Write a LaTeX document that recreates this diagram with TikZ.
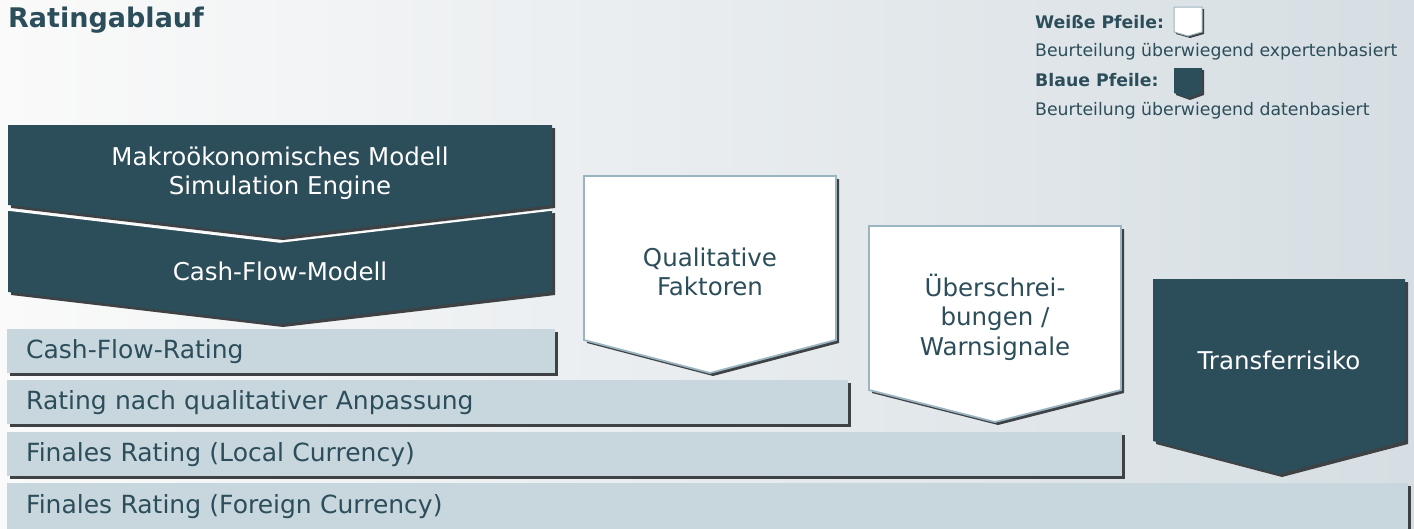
\documentclass[tikz,border=0pt]{standalone}
\usepackage{fontspec}
\setmainfont{DejaVu Sans}
\usepackage{tikz}
\usetikzlibrary{shadows}
\definecolor{petrol}{RGB}{44,77,90}
\definecolor{balkenfarbe}{RGB}{200,214,221}
\definecolor{randfarbe}{RGB}{155,180,193}
\definecolor{schattenfarbe}{RGB}{62,66,69}
\definecolor{hglinks}{RGB}{250,250,250}
\definecolor{hgrechts}{RGB}{214,222,227}

\begin{document}
\begin{tikzpicture}[x=1pt,y=-1pt,
	schlagschatten/.style={drop shadow={shadow xshift=3pt,shadow yshift=-3pt,fill=schattenfarbe,opacity=1}},
	blaupfeil/.style={fill=petrol,schlagschatten},
	weisspfeil/.style={fill=white,draw=randfarbe,line width=1.8pt,schlagschatten},
	pfeiltext/.style={align=center,inner sep=0pt,font=\fontsize{24.5}{29.5}\selectfont},
	balken/.style={fill=balkenfarbe,schlagschatten,anchor=north west,minimum height=44pt,
		inner ysep=0pt,inner xsep=19pt,text width=#1,align=left,text=petrol,
		font=\fontsize{25}{30}\selectfont},
	legende/.style={anchor=base west,inner sep=0pt,text=petrol,font=\fontsize{17.3}{21}\selectfont}]
	\useasboundingbox (0,0) rectangle (1414,528);
	\shade[left color=hglinks,right color=hgrechts] (0,0) rectangle (1414,528);

	\node[anchor=base west,inner sep=0pt,text=petrol,font=\bfseries\fontsize{27}{32}\selectfont] (titel) at (8,27) {Ratingablauf};

	\node[legende,font=\bfseries\fontsize{17.3}{21}\selectfont] (weiss) at (1035,28) {Weiße Pfeile:};
	\node[legende] (experten) at (1035,56) {Beurteilung überwiegend expertenbasiert};
	\node[legende,font=\bfseries\fontsize{17.3}{21}\selectfont] (blau) at (1035,86) {Blaue Pfeile:};
	\node[legende] (daten) at (1035,115) {Beurteilung überwiegend datenbasiert};
	\draw[fill=white,draw=randfarbe,line width=1pt,drop shadow={shadow xshift=2pt,shadow yshift=-2pt,fill=schattenfarbe,opacity=1}]
		(1174,7) -- (1202,7) -- (1202,32) -- (1188,36) -- (1174,32) -- cycle;
	\fill[petrol,drop shadow={shadow xshift=2pt,shadow yshift=-2pt,fill=schattenfarbe,opacity=1}]
		(1174,68) -- (1202,68) -- (1202,93) -- (1188,98) -- (1174,93) -- cycle;

	\node[balken=1363pt,minimum height=46pt] (finfc) at (7,483) {Finales Rating (Foreign Currency)};
	\node[balken=1077pt] (finlc) at (7,432) {Finales Rating (Local Currency)};
	\node[balken=803pt] (ratqual) at (7,380) {Rating nach qualitativer Anpassung};
	\node[balken=510pt] (cfrating) at (7,329) {Cash-Flow-Rating};

	\path[blaupfeil] (8,210) -- (280,242) -- (552,210) -- (552,292) -- (280,324) -- (8,292) -- cycle;
	\draw[white,line width=1.5pt] (8,210) -- (280,242) -- (552,210);
	\path[blaupfeil] (8,125) -- (552,125) -- (552,205) -- (280,237) -- (8,205) -- cycle;
	\path[weisspfeil] (584,176) -- (836,176) -- (836,340) -- (710,373) -- (584,340) -- cycle;
	\path[weisspfeil] (869,226) -- (1121,226) -- (1121,390) -- (995,422) -- (869,390) -- cycle;
	\path[blaupfeil] (1153,279) -- (1405,279) -- (1405,441) -- (1279,474) -- (1153,441) -- cycle;

	\node[pfeiltext,text=white] (makro) at (280,173) {Makroökonomisches Modell\\Simulation Engine};
	\node[pfeiltext,text=white] (cfmodell) at (280,271) {Cash-Flow-Modell};
	\node[pfeiltext,text=petrol] (qualfakt) at (710,272) {Qualitative\\Faktoren};
	\node[pfeiltext,text=petrol] (ueberschr) at (995,317) {Überschrei-\\bungen /\\Warnsignale};
	\node[pfeiltext,text=white] (transfer) at (1279,360) {Transferrisiko};
\end{tikzpicture}
\end{document}
